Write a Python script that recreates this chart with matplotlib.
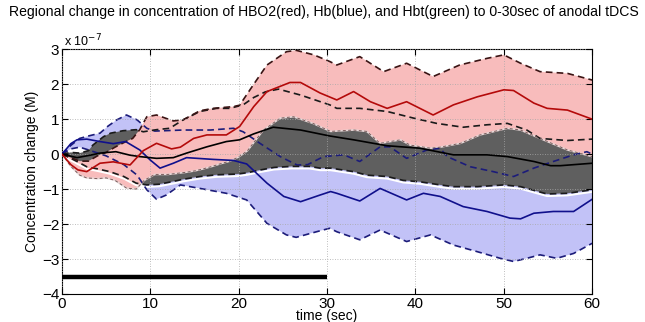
import numpy as np
import matplotlib
matplotlib.use('Agg')
import matplotlib.pyplot as plt

plt.rcParams['font.family'] = ['Liberation Sans', 'DejaVu Sans']

title = "Regional change in concentration of HBO2(red), Hb(blue), and Hbt(green) to 0-30sec of anodal tDCS"
x_label = "time (sec)"
y_label = "Concentration change (M)"
x_ticks = [0, 10, 20, 30, 40, 50, 60]
y_ticks = [-4, -3, -2, -1, 0, 1, 2, 3]
scale_label = r"x 10$^{-7}$"

# stimulation period bar (sec, value in 1e-7 M)
stim_window = [0, 30]
stim_level = -3.5

# ---------------- HbO2 (red) ----------------
hbo2_mean_t = [0, 1, 1.8, 2.8, 4.3, 5.8, 7.7, 9.2, 10.7, 12.4, 13.4, 14.9, 16.4, 18.6, 20.1, 21.7, 23.2,
               25.8, 27, 29.2, 31.1, 33, 34.9, 36.8, 39, 42, 44.3, 47, 50, 51.1, 53.4, 54.9, 57.2, 60]
hbo2_mean = [0, -0.3, -0.45, -0.5, -0.26, -0.22, -0.31, 0.1, 0.31, 0.15, 0.2, 0.45, 0.55, 0.55, 0.79, 1.36, 1.79,
             2.05, 2.05, 1.75, 1.55, 1.79, 1.5, 1.31, 1.5, 1.12, 1.41, 1.64, 1.84, 1.82, 1.46, 1.31, 1.26, 1.0]

hbo2_up_t = [0, 1, 2, 3, 4, 5, 6, 7, 8, 8.8, 9.6, 10.7, 12.6, 13.7, 15.6, 17.1, 19.4, 20.1, 21.7, 23.2,
             25.4, 26.5, 28.5, 30.3, 31.1, 33.7, 36.4, 39, 42, 45, 48.1, 50, 51.9, 54.1, 57.2, 60]
hbo2_up = [0, -0.1, -0.2, -0.2, -0.05, 0.05, 0.2, 0.33, 0.45, 0.7, 1.07, 1.12, 0.95, 0.98, 1.24, 1.31, 1.36, 1.4, 2.0, 2.55,
           2.93, 2.97, 2.84, 2.65, 2.55, 2.79, 2.36, 2.6, 2.22, 2.55, 2.74, 2.84, 2.6, 2.36, 2.31, 2.12]

hbo2_lo_t = [0, 1, 2, 2.8, 4, 5, 6, 7.3, 8.4, 9.3, 10.5, 12, 13, 14, 15, 16, 17, 18, 19, 20, 21, 21.3, 22.8,
             24.7, 26.2, 28.4, 30.4, 33, 34.5, 36, 38.3, 39.4, 41.7, 42.8, 45.1, 47.3, 50.4, 51.9, 54.1, 57.2, 60]
hbo2_lo = [0, -0.35, -0.6, -0.68, -0.7, -0.68, -0.75, -0.97, -1.0, -0.75, -0.58, -0.58, -0.55, -0.52, -0.48, -0.42,
           -0.35, -0.27, -0.2, -0.08, 0.1, 0.2, 0.69, 1.03, 1.07, 0.88, 0.65, 0.69, 0.65, 0.31, 0.41, 0.26, 0.17,
           0.2, 0.31, 0.55, 0.74, 0.69, 0.45, 0.12, -0.07]

# ---------------- Hbt (black / gray) ----------------
hbt_mean_t = [0, 1.7, 3.2, 4.3, 6.1, 7.7, 8.8, 10.7, 12.6, 14.1, 16.4, 18.6, 20.1, 21.7, 23.9, 27, 30.3, 33,
              36.8, 40.5, 44.3, 48.1, 50.4, 53.4, 55.3, 56.4, 60]
hbt_mean = [0, -0.1, -0.03, 0.03, 0.07, -0.03, -0.07, -0.12, -0.1, 0.03, 0.21, 0.36, 0.41, 0.58, 0.77, 0.69, 0.52,
            0.41, 0.24, 0.17, -0.02, -0.02, -0.07, -0.21, -0.33, -0.33, -0.26]

hbt_up_t = [0, 1, 2, 3, 3.5, 4.7, 5.5, 6.9, 8.4, 9.2, 10.7, 12.2, 13.7, 15.6, 17.5, 19, 20.5, 21.7, 23, 24.5,
            27, 30.3, 31.1, 33.7, 36.8, 39.8, 42.4, 45.4, 48.1, 50.4, 52.6, 54.1, 57.2, 60]
hbt_up = [0, 0.05, 0.03, 0.1, 0.26, 0.5, 0.6, 0.67, 0.7, 0.64, 0.7, 0.74, 0.98, 1.22, 1.31, 1.31, 1.41, 1.62, 1.78,
          1.86, 1.69, 1.41, 1.31, 1.31, 1.22, 1.03, 0.88, 0.77, 0.84, 0.88, 0.69, 0.45, 0.39, 0.43]

hbt_lo_t = [0, 1, 2, 2.8, 4, 5.4, 7, 8.4, 9.6, 11, 12.6, 13.7, 15.6, 17.5, 19.8, 21, 22.5, 24, 26, 28, 29.2,
            30.4, 33, 34.5, 36.8, 38.6, 40.5, 42.8, 44.3, 47, 50, 51.9, 54.9, 57.2, 60]
hbt_lo = [0, -0.12, -0.25, -0.36, -0.42, -0.5, -0.64, -0.83, -0.88, -0.86, -0.78, -0.72, -0.64, -0.59, -0.57,
          -0.53, -0.45, -0.38, -0.35, -0.35, -0.4, -0.4, -0.5, -0.6, -0.64, -0.75, -0.79, -0.88, -0.93, -0.93,
          -0.88, -0.93, -1.14, -1.12, -1.02]

# ---------------- Hb (blue) ----------------
hb_mean_t = [0, 1, 1.7, 2.8, 4.3, 5.8, 7.2, 8.8, 10, 11.1, 12.6, 14.1, 17.1, 19.4, 20.9, 23.2, 25.1, 27, 29.2,
             30.4, 31.1, 33.7, 36, 39, 40.9, 42.8, 45.4, 48.1, 50.7, 51.9, 53.4, 55.6, 57.9, 60]
hb_mean = [0, 0.3, 0.41, 0.43, 0.36, 0.3, 0.36, 0.12, -0.17, -0.4, -0.26, -0.1, -0.15, -0.18, -0.28, -0.83, -1.21,
           -1.36, -1.17, -1.07, -1.12, -1.34, -0.98, -1.31, -1.12, -1.21, -1.5, -1.64, -1.83, -1.85, -1.69, -1.64,
           -1.64, -1.29]

hb_up_t = [0, 1, 2, 3, 4.3, 5.2, 6.2, 7.3, 8.5, 9.6, 10.5, 13.7, 16.8, 19.4, 20.5, 22.4, 24.7, 26.6, 27.8, 29.6,
           31.9, 33.7, 36, 37.1, 39, 41.3, 42.8, 43.6, 46.2, 48.8, 51.1, 53.4, 55.6, 57.9, 59.4, 60]
hb_up = [0, 0.25, 0.45, 0.52, 0.6, 0.8, 0.98, 1.12, 0.98, 0.74, 0.66, 0.69, 0.69, 0.74, 0.64, 0.31, -0.07, -0.31,
         -0.3, -0.07, -0.02, -0.21, 0.21, 0.21, -0.12, 0.12, 0.17, -0.07, -0.36, -0.5, -0.64, -0.4, -0.21, -0.02,
         0.07, 0.0]

hb_lo_t = [0, 1, 2, 3, 5, 7, 8.5, 9.6, 10.7, 11.8, 13.4, 15.6, 18.6, 20.9, 23.2, 25.4, 26.5, 28.8, 30.3, 31.1,
           33.7, 36, 39, 41.7, 44.3, 47, 49.6, 51.1, 52.6, 54.1, 56, 57.9, 60]
hb_lo = [0, 0.15, 0.2, 0.12, -0.05, -0.3, -0.6, -1.02, -1.29, -1.17, -0.88, -0.98, -1.12, -1.31, -1.98, -2.31,
         -2.38, -2.22, -2.12, -2.22, -2.45, -2.17, -2.5, -2.31, -2.6, -2.79, -2.98, -3.07, -2.98, -2.88, -2.98,
         -2.84, -2.55]

# ---------------- styles ----------------
PINK = '#F8BCBC'
LBLUE = '#C2C2F7'
GRAY = '#5F5F5F'
RED = '#B40A0A'
NAVY = '#10108C'
DRED = '#3A1414'
DNAVY = '#1C1C7A'


def band(ax, tu, vu, tl, vl, color, z):
    xs = np.concatenate([np.asarray(tu, float), np.asarray(tl, float)[::-1]])
    ys = np.concatenate([np.asarray(vu, float), np.asarray(vl, float)[::-1]])
    ax.fill(xs, ys, color=color, lw=0, zorder=z)


fig = plt.figure(figsize=(6.45, 3.22), dpi=100)
ax = fig.add_axes([0.0961, 0.087, 0.822, 0.760])

# fills: blue below, Hbt gray, HbO2 pink on top
band(ax, hb_up_t, hb_up, hb_lo_t, hb_lo, LBLUE, 1.0)
band(ax, hbt_up_t, hbt_up, hbt_lo_t, hbt_lo, GRAY, 1.1)
band(ax, hbo2_up_t, hbo2_up, hbo2_lo_t, hbo2_lo, PINK, 1.2)

# light edges (halo) on the gray band
ax.plot(hbo2_lo_t, hbo2_lo, color='#e8d8d8', lw=1.2, zorder=1.3)
ax.plot(hbt_lo_t, np.asarray(hbt_lo) - 0.06, color='white', lw=1.4, zorder=1.25)

dash = dict(lw=1.2, ls=(0, (4, 2.5)), zorder=2.2)
ax.plot(hb_up_t, hb_up, color=DNAVY, **dash)
ax.plot(hb_lo_t, hb_lo, color=DNAVY, **dash)
ax.plot(hbt_up_t, hbt_up, color='#1a1a1a', **dash)
ax.plot(hbt_lo_t, hbt_lo, color='#1a1a1a', **dash)
ax.plot(hbo2_up_t, hbo2_up, color=DRED, **dash)
ax.plot(hbo2_lo_t, hbo2_lo, color='#7a5a5a', lw=0.7, ls=(0, (3, 2.5)), zorder=2.2)

ax.plot(hb_mean_t, hb_mean, color=NAVY, lw=1.2, zorder=3)
ax.plot(hbt_mean_t, hbt_mean, color='black', lw=1.2, zorder=3)
ax.plot(hbo2_mean_t, hbo2_mean, color=RED, lw=1.2, zorder=3)

ax.plot(stim_window, [stim_level, stim_level], color='black', lw=3.2, solid_capstyle='butt', zorder=3)

ax.set_xlim(0, 60)
ax.set_ylim(-4, 3)
ax.set_xticks(x_ticks)
ax.set_yticks(y_ticks)
ax.tick_params(direction='in', top=True, right=True, length=4, labelsize=11, pad=2)
ax.grid(True, ls=(0, (1, 2)), color='#a8a8a8', lw=0.6)
ax.set_axisbelow(False)
for s in ax.spines.values():
    s.set_linewidth(0.8)

ax.set_xlabel(x_label, fontsize=10, labelpad=-1)
ax.set_ylabel(y_label, fontsize=10, labelpad=2)
ax.text(0.003, 1.0, scale_label, transform=ax.transAxes, fontsize=9, ha='left', va='bottom')
fig.text(0.502, 0.962, title, ha='center', va='center', fontsize=10.1)

fig.savefig('out.png', dpi=100)
